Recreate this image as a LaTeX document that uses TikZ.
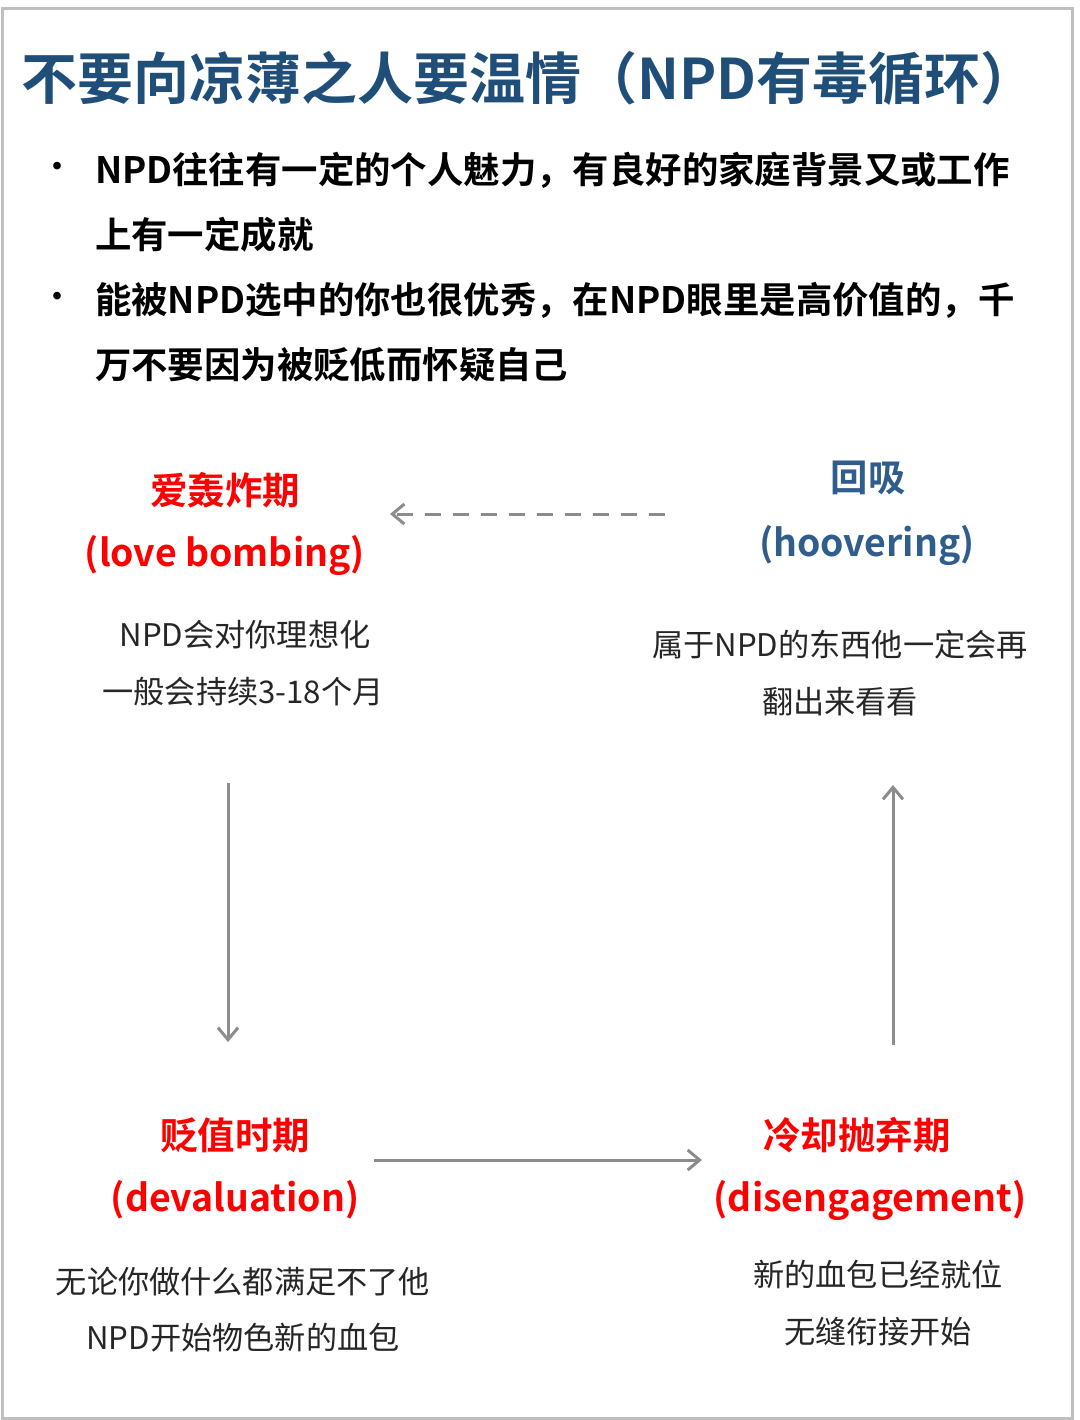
\documentclass[tikz,border=0pt]{standalone}
\usepackage{fontspec}
\setmainfont{Noto Sans CJK SC}
\newfontfamily\cjkb{Noto Sans CJK SC Bold}
\usetikzlibrary{arrows.meta}
\definecolor{ttl}{HTML}{1F4E79}
\definecolor{hoov}{HTML}{2F5D8C}
\definecolor{arr}{HTML}{8C8C8C}
\begin{document}
\begin{tikzpicture}[x=0.5pt,y=-0.5pt,
  hd/.style={font=\cjkb\fontsize{18.7}{22}\selectfont},
  sm/.style={font=\fontsize{15.6}{18}\selectfont,text=black!85},
  bl/.style={font=\cjkb\fontsize{18.2}{22}\selectfont,anchor=west},
  dot/.style={font=\cjkb\fontsize{15}{18}\selectfont},
  ar/.style={draw=arr,line width=1.5pt,-{Straight Barb[length=6pt,width=10pt,line width=1.5pt]}}]
\useasboundingbox (0,0) rectangle (1080,1420);
\fill[white] (0,0) rectangle (1080,1420);
\draw[black!25,line width=1.5pt] (2,8) rectangle (1072,1418);
\node[anchor=west,text=ttl,font=\cjkb\fontsize{28}{32}\selectfont] (t) at (14,78) {不要向凉薄之人要温情（NPD有毒循环）};
\node[dot] (b1) at (57,170) {•};
\node[bl] (l1) at (88,170) {NPD往往有一定的个人魅力，有良好的家庭背景又或工作};
\node[bl] (l2) at (88,235) {上有一定成就};
\node[dot] (b2) at (57,300) {•};
\node[bl] (l3) at (88,300) {能被NPD选中的你也很优秀，在NPD眼里是高价值的，千};
\node[bl] (l4) at (88,365) {万不要因为被贬低而怀疑自己};
\node[hd,text=red] (a1) at (225,490) {爱轰炸期};
\node[hd,text=red] (a2) at (225,555) {(love bombing)};
\node[sm] (a3) at (245,635) {NPD会对你理想化};
\node[sm] (a4) at (243,692) {一般会持续3-18个月};
\node[hd,text=hoov] (h1) at (868,478) {回吸};
\node[hd,text=hoov] (h2) at (867,545) {(hoovering)};
\node[sm] (h3) at (840,645) {属于NPD的东西他一定会再};
\node[sm] (h4) at (840,702) {翻出来看看};
\node[hd,text=red] (d1) at (235,1135) {贬值时期};
\node[hd,text=red] (d2) at (235,1200) {(devaluation)};
\node[sm] (d3) at (243,1282) {无论你做什么都满足不了他};
\node[sm] (d4) at (243,1338) {NPD开始物色新的血包};
\node[hd,text=red] (c1) at (857,1135) {冷却抛弃期};
\node[hd,text=red] (c2) at (870,1200) {(disengagement)};
\node[sm] (c3) at (878,1275) {新的血包已经就位};
\node[sm] (c4) at (878,1332) {无缝衔接开始};
\coordinate (p1) at (665,514); \coordinate (p2) at (390,514);
\coordinate (q1) at (228,783); \coordinate (q2) at (228,1042);
\coordinate (r1) at (374,1160); \coordinate (r2) at (702,1160);
\coordinate (s1) at (893,1045); \coordinate (s2) at (893,785);
\draw[ar,dash pattern=on 8pt off 6pt] (p1) -- (p2);
\draw[ar] (q1) -- (q2);
\draw[ar] (r1) -- (r2);
\draw[ar] (s1) -- (s2);
\end{tikzpicture}
\end{document}
